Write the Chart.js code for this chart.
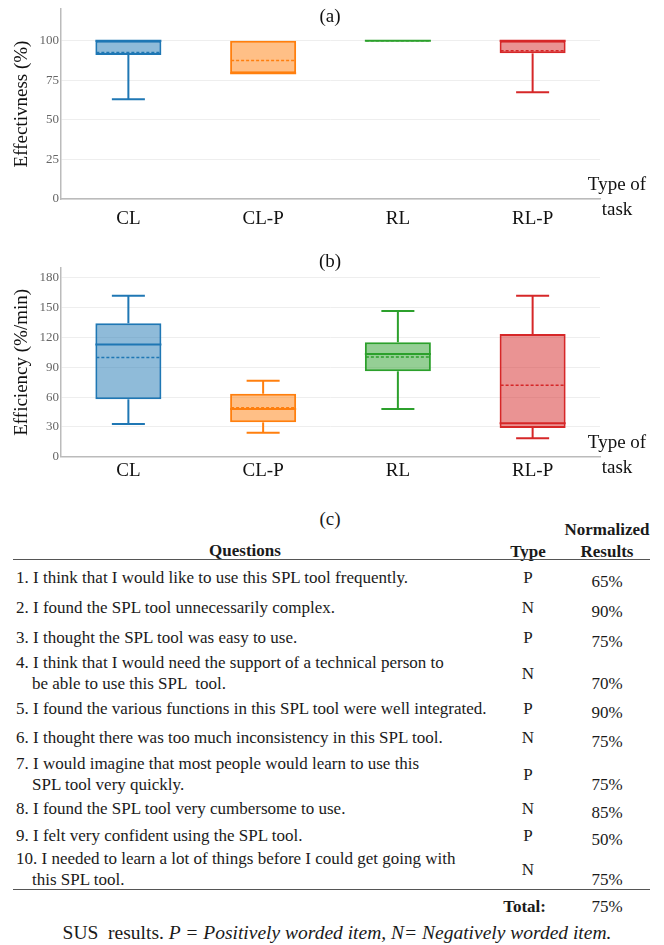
<!DOCTYPE html>
<html lang="en">
<head>
<meta charset="UTF-8">
<title>Effectiveness, efficiency and SUS results</title>
<script src="https://cdn.jsdelivr.net/npm/chart.js"></script>
<style>
  body { margin: 0; background: #fff; }
  #page { position: relative; width: 664px; height: 945px; overflow: hidden;
          font-family: "Liberation Serif", "Times New Roman", serif; color: #1a1a1a; }
  #page canvas { position: absolute; left: 0; }
  #chartA { top: 0; }
  #chartB { top: 230px; }
  .t { position: absolute; font-size: 17px; line-height: 21px; height: 21px; white-space: pre; }
  .c { transform: translateX(-50%); }
  .r { transform: translateX(-100%); }
  .b { font-weight: bold; }
  .rule { position: absolute; left: 13px; width: 637px; height: 0; border-top: 1.5px solid #555; }
</style>
</head>
<body>
<div id="page">
  <canvas id="chartA" width="664" height="230"></canvas>
  <canvas id="chartB" width="664" height="260"></canvas>
</div>

<script>
  // categories
  const tasks = ['CL', 'CL-P', 'RL', 'RL-P'];

  // (a) effectiveness, %
  const effMin    = [63, 79.5, 100, 67.4];
  const effQ1     = [91, 79.5, 100, 92];
  const effMedian = [100, 79.5, 100, 100];
  const effQ3     = [100, 100, 100, 100];
  const effMax    = [100, 100, 100, 100];
  const effMean   = [92.6, 87.5, 100, 93.6];
  const effTicks  = [0, 25, 50, 75, 100];

  // (b) efficiency, %/min
  const efcMin    = [33, 24.2, 48, 18.5];
  const efcQ1     = [57.8, 34.6, 86, 28.9];
  const efcMedian = [113, 48, 103.4, 33.6];
  const efcQ3     = [134.3, 63.4, 115.2, 123.5];
  const efcMax    = [162, 76.5, 146.7, 162];
  const efcMean   = [100, 49.3, 100.4, 71.9];
  const efcTicks  = [0, 30, 60, 90, 120, 150, 180];

  // (c) SUS table
  const questions = [
    ['1. I think that I would like to use this SPL tool frequently.'],
    ['2. I found the SPL tool unnecessarily complex.'],
    ['3. I thought the SPL tool was easy to use.'],
    ['4. I think that I would need the support of a technical person to', 'be able to use this SPL  tool.'],
    ['5. I found the various functions in this SPL tool were well integrated.'],
    ['6. I thought there was too much inconsistency in this SPL tool.'],
    ['7. I would imagine that most people would learn to use this', 'SPL tool very quickly.'],
    ['8. I found the SPL tool very cumbersome to use.'],
    ['9. I felt very confident using the SPL tool.'],
    ['10. I needed to learn a lot of things before I could get going with', 'this SPL tool.']
  ];
  const qTypes  = ['P', 'N', 'P', 'N', 'P', 'N', 'P', 'N', 'P', 'N'];
  const results = [65, 90, 75, 70, 90, 75, 75, 85, 50, 75];
  const total   = 75;

  const colors = ['#1f77b4', '#ff7f0e', '#2ca02c', '#d62728'];
  const fills  = ['rgba(31,119,180,0.5)', 'rgba(255,127,14,0.5)', 'rgba(44,160,44,0.5)', 'rgba(214,39,40,0.5)'];

  // whiskers, median and mean drawn over the floating-bar boxes
  const boxExtras = {
    id: 'boxExtras',
    afterDatasetsDraw(chart, args, o) {
      const ctx = chart.ctx, y = chart.scales.y;
      const py = v => y.getPixelForValue(v);
      const seg = (x1, y1, x2, y2) => { ctx.beginPath(); ctx.moveTo(x1, y1); ctx.lineTo(x2, y2); ctx.stroke(); };
      chart.getDatasetMeta(0).data.forEach((bar, i) => {
        const cx = bar.x, half = bar.width / 2, cap = bar.width / 4;
        ctx.save();
        ctx.strokeStyle = colors[i];
        ctx.lineWidth = 2;
        if (o.hi[i] > o.q3[i]) {
          seg(cx, py(o.q3[i]), cx, py(o.hi[i]));
          seg(cx - cap, py(o.hi[i]), cx + cap, py(o.hi[i]));
        }
        if (o.lo[i] < o.q1[i]) {
          seg(cx, py(o.q1[i]), cx, py(o.lo[i]));
          seg(cx - cap, py(o.lo[i]), cx + cap, py(o.lo[i]));
        }
        seg(cx - half, py(o.median[i]), cx + half, py(o.median[i]));
        ctx.lineWidth = 1.5;
        ctx.setLineDash([3, 2]);
        seg(cx - half + 1, py(o.mean[i]), cx + half - 1, py(o.mean[i]));
        ctx.restore();
      });
    }
  };

  const panelText = {
    id: 'panelText',
    afterDraw(chart, args, o) {
      const ctx = chart.ctx, area = chart.chartArea;
      ctx.save();
      ctx.fillStyle = '#111';
      ctx.font = '19px "Liberation Serif"';
      ctx.textAlign = 'center';
      ctx.textBaseline = 'middle';
      ctx.fillText(o.title, 330, o.titleY);
      ctx.fillText('Type of', area.right + 17, area.bottom - 14);
      ctx.fillText('task', area.right + 17, area.bottom + 11);
      ctx.restore();
    }
  };

  function boxChart(id, s) {
    return new Chart(document.getElementById(id), {
      type: 'bar',
      data: {
        labels: tasks,
        datasets: [{
          data: tasks.map((_, i) => [s.q1[i], s.q3[i]]),
          backgroundColor: fills,
          borderColor: colors,
          borderWidth: 2,
          borderSkipped: false,
          barPercentage: 0.49,
          categoryPercentage: 1
        }]
      },
      options: {
        responsive: false,
        animation: false,
        layout: { padding: { top: s.padTop, right: 64, bottom: 0, left: 0 } },
        scales: {
          x: {
            grid: { display: false },
            border: { display: true, color: '#bbb', width: 1.5 },
            ticks: { color: '#111', font: { family: 'Liberation Serif', size: 19 }, padding: s.tickPad },
            afterFit: sc => { sc.height = s.axisH; sc.paddingLeft = 0; sc.paddingRight = 0; }
          },
          y: {
            min: 0,
            max: s.axisMax,
            afterBuildTicks: sc => { sc.ticks = s.ticks.map(v => ({ value: v })); },
            grid: { color: '#eee', lineWidth: 1, drawTicks: false },
            border: { display: true, color: '#bbb', width: 1.5 },
            ticks: { color: '#666', font: { family: 'Liberation Sans Narrow', size: 13 }, padding: 2 },
            title: { display: true, text: s.yTitle, color: '#111',
                     font: { family: 'Liberation Serif', size: 19 }, padding: { top: 11, bottom: 0 } },
            afterFit: sc => { sc.width = 61; sc.paddingTop = 0; sc.paddingBottom = 0; }
          }
        },
        plugins: {
          legend: { display: false },
          tooltip: { enabled: false },
          boxExtras: { lo: s.lo, q1: s.q1, median: s.median, q3: s.q3, hi: s.hi, mean: s.mean },
          panelText: { title: s.title, titleY: s.titleY }
        }
      },
      plugins: [boxExtras, panelText]
    });
  }

  boxChart('chartA', {
    lo: effMin, q1: effQ1, median: effMedian, q3: effQ3, hi: effMax, mean: effMean,
    ticks: effTicks, axisMax: 120, yTitle: 'Effectivness (%)',
    title: '(a)', titleY: 17, padTop: 9, axisH: 31, tickPad: 1
  });

  boxChart('chartB', {
    lo: efcMin, q1: efcQ1, median: efcMedian, q3: efcQ3, hi: efcMax, mean: efcMean,
    ticks: efcTicks, axisMax: 190, yTitle: 'Efficiency (%/min)',
    title: '(b)', titleY: 32, padTop: 38, axisH: 33.3, tickPad: -5
  });

  // ---- table (c) ----
  const page = document.getElementById('page');
  function put(html, x, yc, cls, size) {
    const d = document.createElement('div');
    d.className = 't ' + (cls || '');
    d.innerHTML = html;
    d.style.left = x + 'px';
    const fs = size || 17;
    const lh = Math.round(fs * 1.25);
    d.style.fontSize = fs + 'px';
    d.style.lineHeight = lh + 'px';
    d.style.height = lh + 'px';
    d.style.top = (yc - lh / 2) + 'px';
    page.appendChild(d);
  }
  function rule(y) {
    const d = document.createElement('div');
    d.className = 'rule';
    d.style.top = y + 'px';
    page.appendChild(d);
  }

  const colQ = 16, colIndent = 32, colType = 528, colRes = 607, lineGap = 21;
  const rowY = [577, 607, 637, 662, 708, 737, 763, 808, 835, 858];

  put('(c)', 330, 519, 'c', 19);
  put('Normalized', colRes, 529, 'c b');
  put('Questions', 245, 550, 'c b');
  put('Type', colType, 551, 'c b');
  put('Results', colRes, 551, 'c b');
  rule(559);

  questions.forEach((lines, i) => {
    const y0 = rowY[i];
    lines.forEach((ln, k) => put(ln, k === 0 ? colQ : colIndent, y0 + k * lineGap, ''));
    const n = lines.length;
    put(qTypes[i], colType, y0 + (n - 1) * lineGap / 2 + (n > 1 ? 1 : 0), 'c');
    put(results[i] + '%', colRes, y0 + (n - 1) * lineGap + (n > 1 ? 0 : 4), 'c');
  });

  rule(889);
  put('Total:', 546, 906, 'r b');
  put(total + '%', colRes, 906, 'c');
  put('SUS  results. <i>P = Positively worded item, N= Negatively worded item.</i>', 337, 933, 'c', 19.5);
</script>
</body>
</html>
